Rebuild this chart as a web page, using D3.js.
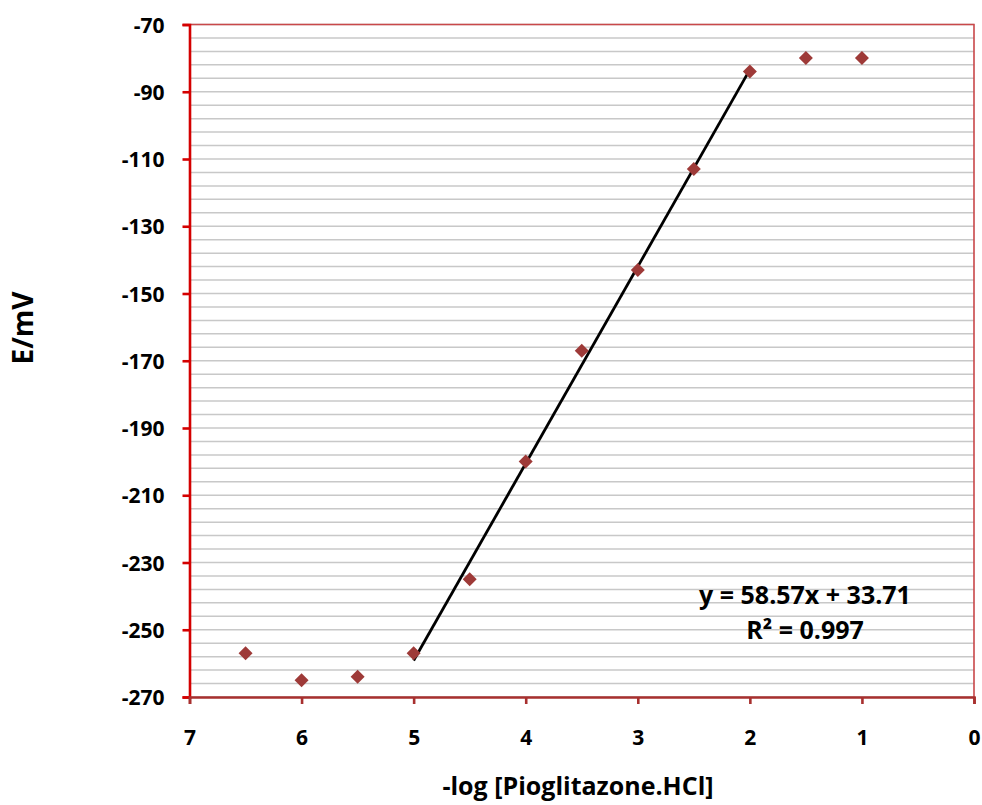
<!DOCTYPE html>
<html>
<head>
<meta charset="utf-8">
<script src="https://cdn.jsdelivr.net/npm/d3@7"></script>
<style>
  body { margin: 0; background: #fff; }
  text { font-family: "Open Sans", Lato, sans-serif; font-weight: bold; fill: #000; }
</style>
</head>
<body>
<svg width="982" height="805"></svg>
<script>
// -log concentration and measured potential (mV)
const pConc = [6.5, 6, 5.5, 5, 4.5, 4, 3.5, 3, 2.5, 2, 1.5, 1];
const potential = [-257, -265, -264, -257, -235, -200, -167, -143, -113, -84, -80, -80];
const xTicks = [7, 6, 5, 4, 3, 2, 1, 0];
const yTicks = [-70, -90, -110, -130, -150, -170, -190, -210, -230, -250, -270];
// linear fit over the linear range, as printed on the chart
const fitSlope = 58.57;
const fitIntercept = 33.71;
const fitRange = [5, 2];
const eqLines = ["y = 58.57x + 33.71", "R\u00b2 = 0.997"];

function drawCalibration() {
    let svg = d3.select("svg");
    let left = 189.5, right = 974, top = 24.5, bottom = 697;

    let x = d3.scaleLinear().domain([7, 0]).range([left, right]);
    let y = d3.scaleLinear().domain([-270, -70]).range([bottom, top]);

    // gridlines every 4 mV
    let grid = d3.range(-270, -69, 4);
    svg.append("g").selectAll("line")
        .data(grid)
        .enter()
        .append("line")
        .attr("x1", left).attr("x2", right)
        .attr("y1", d => y(d)).attr("y2", d => y(d))
        .style("stroke", "#c8c8c8")
        .style("stroke-width", 1.5);

    // plot border (top / right)
    svg.append("path")
        .attr("d", `M${left},${top}H${right}V${bottom}`)
        .style("fill", "none")
        .style("stroke", "#c9484a")
        .style("stroke-width", 1.6);

    // y axis
    let yAxis = svg.append("g")
        .attr("transform", `translate(${left},0)`)
        .call(d3.axisLeft(y).tickValues(yTicks).tickSize(7).tickPadding(18).tickFormat(d => String(d)));
    yAxis.select(".domain").style("stroke", "#d40000").style("stroke-width", 2.6);
    yAxis.selectAll(".tick line").style("stroke", "#d40000").style("stroke-width", 2.6);
    yAxis.selectAll("text").style("font-size", "21px").attr("dy", "0.36em");

    // x axis
    let xAxis = svg.append("g")
        .attr("transform", `translate(0,${bottom})`)
        .call(d3.axisBottom(x).tickValues(xTicks).tickSize(7).tickPadding(26).tickFormat(d => String(d)));
    xAxis.select(".domain").style("stroke", "#a8302f").style("stroke-width", 2.6);
    xAxis.selectAll(".tick line").style("stroke", "#a8302f").style("stroke-width", 2.6);
    xAxis.selectAll("text").style("font-size", "21px");

    // trendline
    svg.append("line")
        .attr("x1", x(fitRange[0])).attr("y1", y(fitSlope * -fitRange[0] + fitIntercept))
        .attr("x2", x(fitRange[1])).attr("y2", y(fitSlope * -fitRange[1] + fitIntercept))
        .style("stroke", "#000")
        .style("stroke-width", 2.8);

    // points
    let diamond = d3.symbol().type(d3.symbolSquare).size(98);
    svg.append("g").selectAll("path")
        .data(pConc)
        .enter()
        .append("path")
        .attr("d", diamond)
        .attr("transform", (d, i) => `translate(${x(d)},${y(potential[i])}) rotate(45)`)
        .style("fill", "#9e3a38");

    // equation
    svg.append("g").selectAll("text")
        .data(eqLines)
        .enter()
        .append("text")
        .attr("x", 805)
        .attr("y", (d, i) => 604 + i * 35)
        .attr("text-anchor", "middle")
        .style("font-size", "25px")
        .text(d => d);

    // axis titles
    svg.append("text")
        .attr("x", 578).attr("y", 795)
        .attr("text-anchor", "middle")
        .style("font-size", "25px")
        .text("-log [Pioglitazone.HCl]");

    svg.append("text")
        .attr("transform", "translate(33,328) rotate(-90)")
        .attr("text-anchor", "middle")
        .style("font-size", "28px")
        .text("E/mV");
}

drawCalibration();
</script>
</body>
</html>
